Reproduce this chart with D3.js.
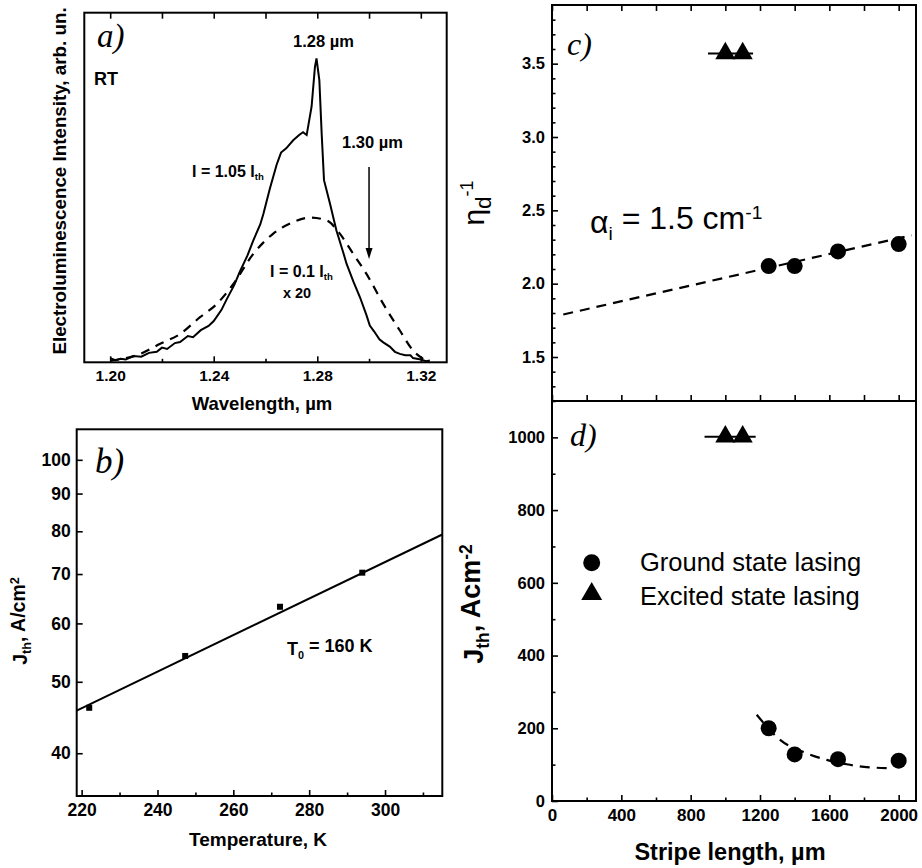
<!DOCTYPE html>
<html>
<head>
<meta charset="utf-8">
<script src="https://cdn.jsdelivr.net/npm/d3@7"></script>
<style>
body { margin: 0; background: #fff; }
svg text { font-family: "Liberation Sans", Arial, sans-serif; fill: #000; }
svg .tk text { font-weight: bold; }
</style>
</head>
<body>
<svg id="fig" width="922" height="868"></svg>
<script>
// ---- panel a: electroluminescence spectra ----
const wlSolid = [1.200, 1.202, 1.204, 1.206, 1.209, 1.212, 1.215, 1.218, 1.220, 1.222, 1.225, 1.227, 1.230, 1.232,
  1.235, 1.238, 1.240, 1.243, 1.245, 1.248, 1.250, 1.253, 1.2553, 1.258, 1.2592, 1.2617, 1.2643, 1.266, 1.268,
  1.2707, 1.273, 1.2745, 1.2759, 1.2778, 1.2791, 1.2797, 1.2808, 1.2817, 1.2826, 1.2849, 1.2874, 1.290, 1.2913,
  1.294, 1.2965, 1.299, 1.3003, 1.302, 1.304, 1.3055, 1.308, 1.310, 1.3119, 1.314, 1.316, 1.317, 1.320, 1.322, 1.3235];
const elSolid = [0.012, 0.006, 0.010, 0.008, 0.018, 0.016, 0.027, 0.030, 0.042, 0.038, 0.055, 0.058, 0.075, 0.072,
  0.092, 0.104, 0.118, 0.150, 0.180, 0.222, 0.258, 0.305, 0.349, 0.395, 0.425, 0.497, 0.565, 0.600, 0.612,
  0.635, 0.650, 0.658, 0.650, 0.731, 0.845, 0.869, 0.807, 0.654, 0.521, 0.454, 0.377, 0.315, 0.282,
  0.230, 0.186, 0.135, 0.105, 0.088, 0.066, 0.057, 0.045, 0.030, 0.024, 0.020, 0.020, 0.012, 0.008, 0.003, 0.005];
const wlDash = [1.200, 1.205, 1.2116, 1.2193, 1.227, 1.2347, 1.2412, 1.2476, 1.2553, 1.2630, 1.2707, 1.2772,
  1.2836, 1.2887, 1.2939, 1.2990, 1.3055, 1.3119, 1.3171, 1.3209, 1.3235];
const elDash = [0.005, 0.010, 0.024, 0.053, 0.081, 0.129, 0.167, 0.224, 0.310, 0.368, 0.401, 0.414,
  0.406, 0.368, 0.310, 0.253, 0.167, 0.091, 0.033, 0.010, 0.0];
const wlTicks = [1.20, 1.24, 1.28, 1.32];
const wlMinor = [1.22, 1.26, 1.30];

// ---- panel b: threshold vs temperature ----
const tempK = [222, 247.3, 272.3, 294];
const jthT = [46.1, 54.2, 63.2, 70.3];
const tempFit = [218.7, 315.1];
const jthFit = [45.7, 79.2];
const tempTicks = [220, 240, 260, 280, 300];
const tempMinor = [230, 250, 270, 290, 310];
const jTicks = [40, 50, 60, 70, 80, 90, 100];

// ---- panels c, d: vs stripe length ----
const stripeL = [1250, 1400, 1650, 2000];
const invEta = [2.12, 2.12, 2.22, 2.27];
const jthL = [200, 128, 115, 111];
const excL = [1000, 1100];
const excInvEta = [3.57, 3.57];
const excJth = [1002, 1002];
const excBarC = [900, 1160];
const excBarD = [880, 1175];
const fitCL = [65, 2075];
const fitCEta = [1.79, 2.33];
const fitDL = [1181, 1316, 1470, 1585, 1700, 1800, 1969];
const fitDJ = [237, 168, 131, 113, 101, 94, 90];
const lTicks = [0, 400, 800, 1200, 1600, 2000];
const lMinor = [200, 600, 1000, 1400, 1800];
const etaTicks = [1.5, 2.0, 2.5, 3.0, 3.5];
const etaMinor = [1.3, 1.4, 1.6, 1.7, 1.8, 1.9, 2.1, 2.2, 2.3, 2.4, 2.6, 2.7, 2.8, 2.9, 3.1, 3.2, 3.3, 3.4, 3.6, 3.7, 3.8];
const jdTicks = [0, 200, 400, 600, 800, 1000];
const jdMinor = [100, 300, 500, 700, 900, 1100];

const svg = d3.select("#fig");
const SANS = '"Liberation Sans", Arial, sans-serif';
const SERIF = '"Liberation Serif", "Times New Roman", serif';

const xa = d3.scaleLinear().domain([1.19, 1.33]).range([84.3, 446.7]);
const ya = d3.scaleLinear().domain([0, 1]).range([362.3, 12.7]);
const xb = d3.scaleLinear().domain([218.7, 315.1]).range([76.7, 442.3]);
const yb = d3.scaleLog().domain([35, 110]).range([796, 429.3]);
const xr = d3.scaleLinear().domain([0, 2100]).range([552, 916]);
const yc = d3.scaleLinear().domain([1.2, 3.9]).range([401, 5]);
const yd = d3.scaleLinear().domain([0, 1100]).range([801, 401]);

function frame(x, y) {
  const [x0, x1] = x.range(), [y0, y1] = y.range();
  svg.append("rect").attr("x", x0).attr("y", y1).attr("width", x1 - x0).attr("height", y0 - y1)
    .attr("fill", "none").attr("stroke", "#000").attr("stroke-width", 2);
}

function ticks(orient, scale, tx, ty, major, minor, fmt, fs, pad) {
  const mk = orient === "bottom" ? d3.axisBottom : orient === "top" ? d3.axisTop : d3.axisLeft;
  const gm = svg.append("g").attr("transform", `translate(${tx},${ty})`)
    .call(mk(scale).tickValues(minor).tickSize(-3.5).tickFormat(""));
  const gM = svg.append("g").attr("class", "tk").attr("transform", `translate(${tx},${ty})`)
    .call(mk(scale).tickValues(major).tickSize(-6).tickPadding(pad).tickFormat(fmt || (() => "")));
  [gm, gM].forEach(g => {
    g.select(".domain").remove();
    g.selectAll("line").attr("stroke", "#000").attr("stroke-width", 1.6);
  });
  gM.attr("font-size", fs).attr("font-weight", "bold").attr("font-family", SANS);
  gM.selectAll("text").attr("font-weight", "bold").attr("font-size", fs)
    .style("font-weight", "bold").style("font-size", fs + "px");
}

// rich text: parts = [[text, dyEm, scale]]
function rich(x, y, parts, opt) {
  const t = svg.append("text").attr("x", x).attr("y", y)
    .style("font-size", opt.size + "px").style("font-weight", opt.bold ? "bold" : "normal")
    .attr("text-anchor", opt.anchor || "start");
  if (opt.rotate) t.attr("x", 0).attr("y", 0).attr("transform", `translate(${x},${y}) rotate(-90)`);
  if (opt.family) t.style("font-family", opt.family);
  if (opt.italic) t.style("font-style", "italic");
  parts.forEach(p => {
    t.append("tspan").text(p[0]).attr("dy", (p[1] || 0) + "em")
      .style("font-size", (p[2] || 1) * opt.size + "px");
  });
  return t;
}

const line = (x, y) => d3.line().x(d => x(d[0])).y(d => y(d[1]));

// ===== panel a =====
frame(xa, ya);
ticks("bottom", xa, 0, ya(0), wlTicks, wlMinor, d3.format(".2f"), 15.5, 8);
ticks("top", xa, 0, ya(1), [...wlTicks, ...wlMinor], [], null, 15, 0);
svg.append("path").datum(d3.zip(wlSolid, elSolid)).attr("d", line(xa, ya))
  .attr("fill", "none").attr("stroke", "#000").attr("stroke-width", 2);
svg.append("path").datum(d3.zip(wlDash, elDash)).attr("d", line(xa, ya).curve(d3.curveMonotoneX))
  .attr("fill", "none").attr("stroke", "#000").attr("stroke-width", 2.2).attr("stroke-dasharray", "9,7");
// arrow at 1.30 um
svg.append("line").attr("x1", xa(1.30)).attr("x2", xa(1.30)).attr("y1", 167).attr("y2", 250)
  .attr("stroke", "#000").attr("stroke-width", 1.5);
svg.append("path").attr("d", `M${xa(1.30) - 3.5},248 L${xa(1.30) + 3.5},248 L${xa(1.30)},259 Z`).attr("fill", "#000");

rich(97, 47, [["a)"]], { size: 33, italic: true, family: SERIF });
rich(94, 85, [["RT"]], { size: 18, bold: true });
rich(293, 47, [["1.28 µm"]], { size: 16.5, bold: true });
rich(342, 148, [["1.30 µm"]], { size: 16.5, bold: true });
rich(192, 177, [["I = 1.05 I"], ["th", 0.35, 0.6]], { size: 16, bold: true });
rich(270, 277, [["I = 0.1 I"], ["th", 0.35, 0.6]], { size: 16, bold: true });
rich(297, 298, [["x 20"]], { size: 14.5, bold: true, anchor: "middle" });
rich(262, 410, [["Wavelength, µm"]], { size: 18.5, bold: true, anchor: "middle" });
rich(66, 181, [["Electroluminescence Intensity, arb. un."]], { size: 18.8, bold: true, anchor: "middle", rotate: true });

// ===== panel b =====
frame(xb, yb);
ticks("bottom", xb, 0, yb(35), tempTicks, tempMinor, d3.format("d"), 17.5, 8);
ticks("left", yb, xb(218.7), 0, jTicks, [], d3.format("d"), 17.5, 6);
svg.append("path").datum(d3.zip(tempFit, jthFit)).attr("d", line(xb, yb))
  .attr("fill", "none").attr("stroke", "#000").attr("stroke-width", 2);
svg.selectAll(".sq").data(d3.zip(tempK, jthT)).join("rect").attr("class", "sq")
  .attr("x", d => xb(d[0]) - 3).attr("y", d => yb(d[1]) - 3).attr("width", 6).attr("height", 6).attr("fill", "#000");
rich(95, 473, [["b)"]], { size: 35, italic: true, family: SERIF });
rich(287, 655, [["T"], ["0", 0.35, 0.6], [" = 160 K", -0.35]], { size: 18, bold: true });
rich(258, 846, [["Temperature, K"]], { size: 19, bold: true, anchor: "middle" });
rich(27, 621, [["J"], ["th", 0.35, 0.65], [", A/cm", -0.35], ["2", -0.45, 0.65]], { size: 19.5, bold: true, anchor: "middle", rotate: true });

// ===== panel c =====
frame(xr, yc);
ticks("left", yc, xr(0), 0, etaTicks, etaMinor, d3.format(".1f"), 16.5, 7);
ticks("top", xr, 0, yc(3.9), [...lTicks, ...lMinor], [], null, 15, 0);
ticks("bottom", xr, 0, yc(1.2), [...lTicks, ...lMinor], [], null, 15, 0);
svg.append("path").datum(d3.zip(fitCL, fitCEta)).attr("d", line(xr, yc))
  .attr("fill", "none").attr("stroke", "#000").attr("stroke-width", 2.2).attr("stroke-dasharray", "10,7");
svg.append("line").attr("x1", xr(excBarC[0])).attr("x2", xr(excBarC[1]))
  .attr("y1", yc(excInvEta[0])).attr("y2", yc(excInvEta[0])).attr("stroke", "#000").attr("stroke-width", 2);
svg.selectAll(".cc").data(d3.zip(stripeL, invEta)).join("circle").attr("class", "cc")
  .attr("cx", d => xr(d[0])).attr("cy", d => yc(d[1])).attr("r", 8).attr("fill", "#000");
svg.selectAll(".tc").data(d3.zip(excL, excInvEta)).join("path").attr("class", "tc")
  .attr("transform", d => `translate(${xr(d[0])},${yc(d[1])})`)
  .attr("d", d3.symbol(d3.symbolTriangle, 175)).attr("fill", "#000");
rich(567, 55, [["c)"]], { size: 32, italic: true, family: SERIF });
rich(590, 233, [["α"], ["i", 0.35, 0.6], [" = 1.5 cm", -0.35], ["-1", -0.5, 0.6]], { size: 32 });
rich(484, 203, [["η"], ["d", 0.3, 0.75], ["-1", -1.0, 0.6]], { size: 30, anchor: "middle", rotate: true });

// ===== panel d =====
frame(xr, yd);
ticks("left", yd, xr(0), 0, jdTicks, jdMinor, d3.format("d"), 16.5, 7);
ticks("bottom", xr, 0, yd(0), lTicks, lMinor, d3.format("d"), 17, 8);
svg.append("path").datum(d3.zip(fitDL, fitDJ)).attr("d", line(xr, yd).curve(d3.curveMonotoneX))
  .attr("fill", "none").attr("stroke", "#000").attr("stroke-width", 2.2).attr("stroke-dasharray", "10,7");
svg.append("line").attr("x1", xr(excBarD[0])).attr("x2", xr(excBarD[1]))
  .attr("y1", yd(excJth[0])).attr("y2", yd(excJth[0])).attr("stroke", "#000").attr("stroke-width", 2);
svg.selectAll(".cd").data(d3.zip(stripeL, jthL)).join("circle").attr("class", "cd")
  .attr("cx", d => xr(d[0])).attr("cy", d => yd(d[1])).attr("r", 8).attr("fill", "#000");
svg.selectAll(".td").data(d3.zip(excL, excJth)).join("path").attr("class", "td")
  .attr("transform", d => `translate(${xr(d[0])},${yd(d[1])})`)
  .attr("d", d3.symbol(d3.symbolTriangle, 175)).attr("fill", "#000");
// legend
svg.append("circle").attr("cx", 591.7).attr("cy", 562.7).attr("r", 8.5).attr("fill", "#000");
svg.append("path").attr("transform", "translate(591.7,594)").attr("d", d3.symbol(d3.symbolTriangle, 190)).attr("fill", "#000");
rich(640, 571, [["Ground state lasing"]], { size: 25.5 });
rich(640, 605, [["Excited state lasing"]], { size: 25.5 });
rich(570, 446, [["d)"]], { size: 32, italic: true, family: SERIF });
rich(730, 860, [["Stripe length, µm"]], { size: 23.5, bold: true, anchor: "middle" });
rich(483, 604, [["J"], ["th", 0.35, 0.65], [", Acm", -0.35], ["-2", -0.45, 0.65]], { size: 27, bold: true, anchor: "middle", rotate: true });
</script>
</body>
</html>
